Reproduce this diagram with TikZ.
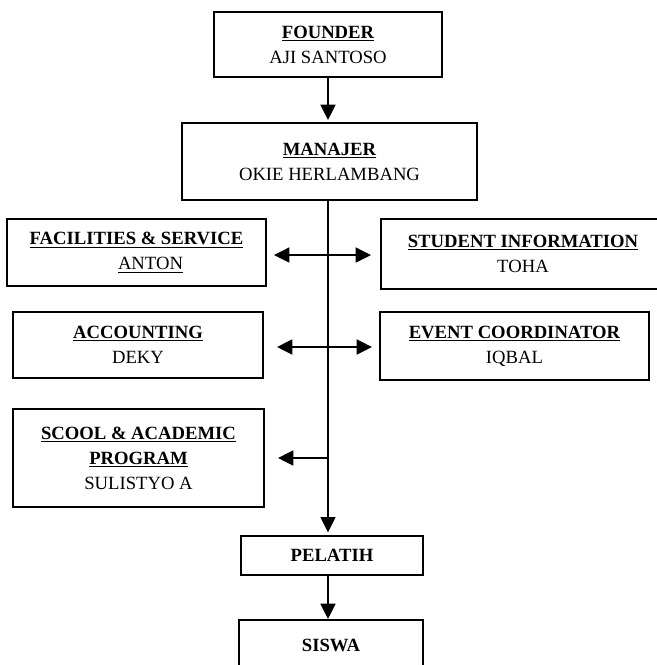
\documentclass[tikz,border=0pt]{standalone}
\usepackage{fontspec}
\setmainfont{Liberation Serif}
\usetikzlibrary{arrows.meta,calc}

\begin{document}
\begin{tikzpicture}[x=0.75pt,y=-0.75pt,
	box/.style={draw, line width=1.4pt, inner sep=0pt, align=center, font=\fontsize{14}{18.75}\selectfont},
	arr/.style={line width=1.9pt, -{Triangle[length=11.5pt,width=11pt]}},
	darr/.style={line width=1.9pt, {Triangle[length=11.5pt,width=11pt]}-{Triangle[length=11.5pt,width=11pt]}}]
		\useasboundingbox (0,0) rectangle (657,665);

		% Pimpinan
		\node[box, minimum width=171pt, minimum height=48.75pt] (founder) at (328,44.5) {\textbf{\underline{FOUNDER}}\\AJI SANTOSO};
		\node[box, minimum width=221.25pt, minimum height=57.75pt] (manajer) at (329.5,161.5) {\textbf{\underline{MANAJER}}\\OKIE HERLAMBANG};

		% Bagian kiri
		\node[box, minimum width=194.25pt, minimum height=50.25pt] (facil) at (136.5,252.5) {\textbf{\underline{FACILITIES \& SERVICE}}\\\hspace*{21pt}\underline{ANTON}};
		\node[box, minimum width=187.5pt, minimum height=49.5pt] (account) at (138,345) {\textbf{\underline{ACCOUNTING}}\\DEKY};
		\node[box, minimum width=188.25pt, minimum height=73.5pt] (school) at (138.5,458) {\textbf{\underline{SCOOL \& ACADEMIC}}\\\textbf{\underline{PROGRAM}}\\SULISTYO A};

		% Bagian kanan
		\node[box, minimum width=213pt, minimum height=52.5pt] (student) at (523,254) {\textbf{\underline{STUDENT INFORMATION}}\\TOHA};
		\node[box, minimum width=201.75pt, minimum height=51pt] (event) at (514.5,346) {\textbf{\underline{EVENT COORDINATOR}}\\IQBAL};

		% Bawah
		\node[box, minimum width=136.5pt, minimum height=29.25pt] (pelatih) at (332,555.5) {\textbf{PELATIH}};
		\node[box, minimum width=138pt, minimum height=37.5pt] (siswa) at (331,645) {\textbf{SISWA}};

		% Garis
		\draw[arr, shorten >=1.5pt] (founder.south) -- (founder.south |- manajer.north);
		\coordinate (spine) at (manajer.south -| founder.south);
		\draw[arr, shorten >=2pt] (spine) -- (spine |- pelatih.north);
		\draw[darr, shorten <=5.25pt, shorten >=6.75pt] ([yshift=-1.9pt]facil.east) -- ([yshift=-1.9pt]facil.east -| student.west);
		\draw[darr, shorten <=9.75pt, shorten >=5.25pt] ([yshift=-1.5pt]account.east) -- ([yshift=-1.5pt]account.east -| event.west);
		\draw[arr, shorten >=9.75pt] (spine |- school.east) -- (school.east);
		\draw[arr] (pelatih.south -| spine) -- (siswa.north -| spine);

	\end{tikzpicture}
\end{document}
